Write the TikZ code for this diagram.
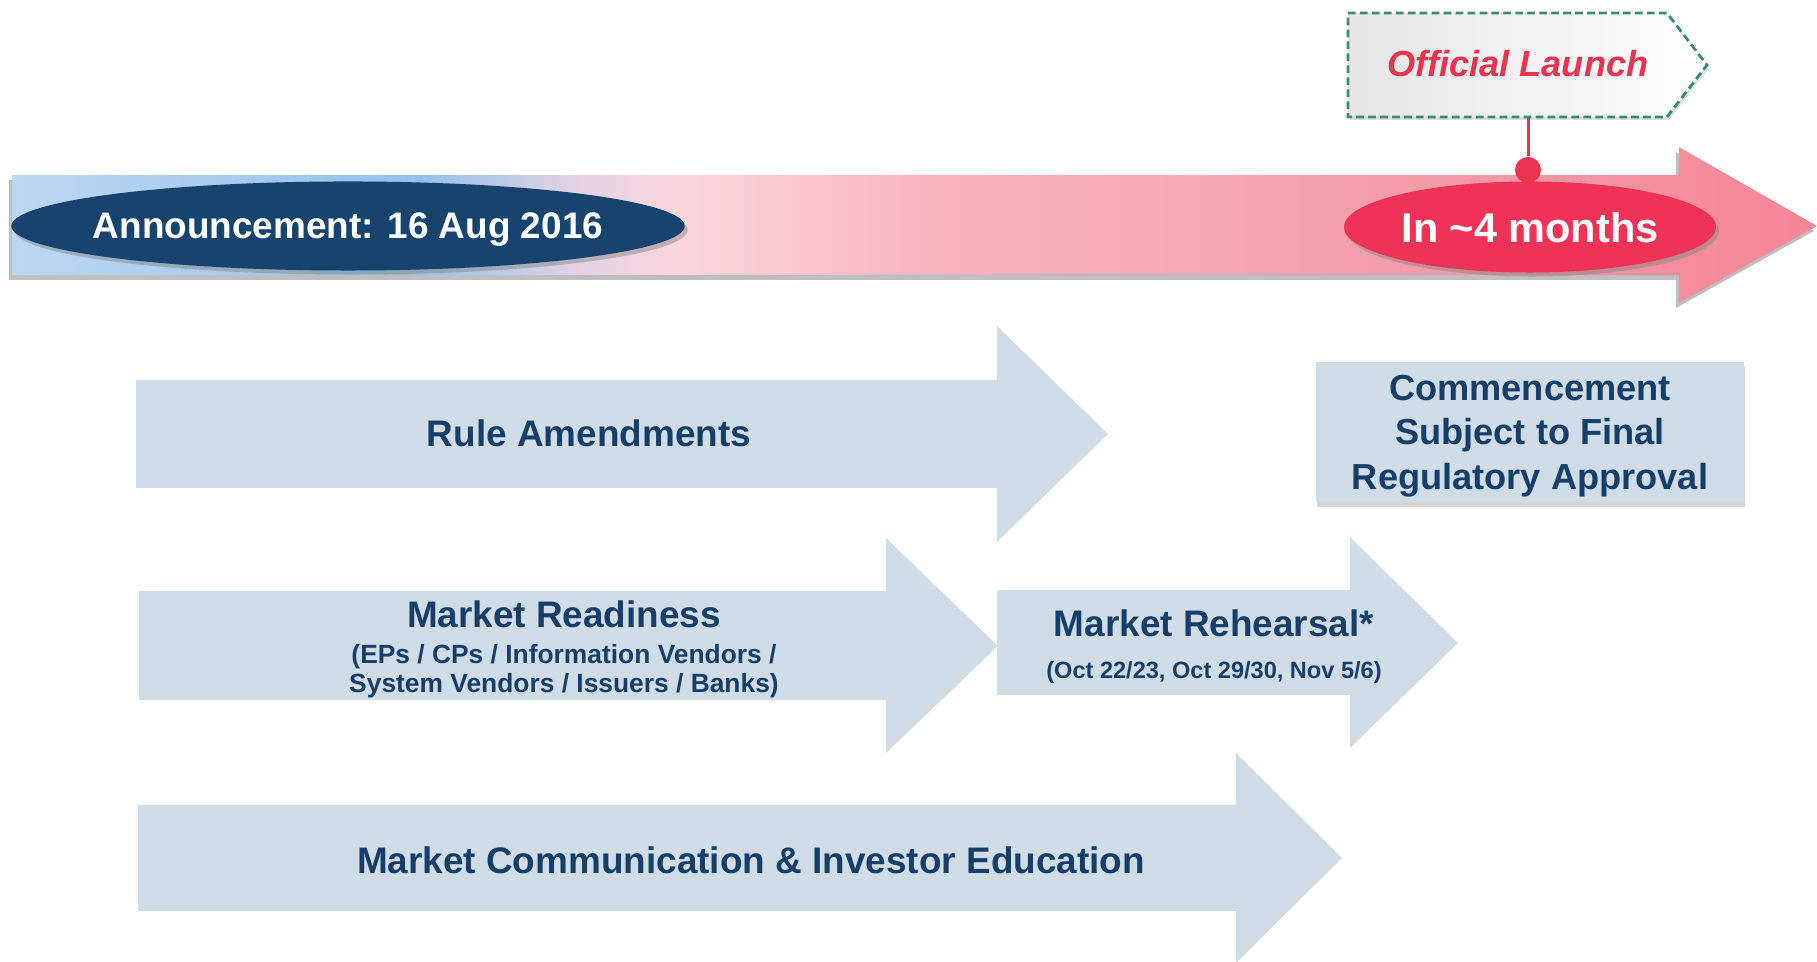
\documentclass[tikz,border=0pt]{standalone}
\usepackage{fontspec}
\setmainfont{Liberation Sans}
\usetikzlibrary{positioning,shapes.geometric,shadows}

\definecolor{phaseblue}{HTML}{D0DDE7}
\definecolor{navytext}{HTML}{153F6A}
\definecolor{navyoval}{HTML}{17446F}
\definecolor{redoval}{HTML}{EF3356}
\definecolor{launchred}{HTML}{EC3350}
\definecolor{launchteal}{HTML}{3A8A78}
\definecolor{tlA}{HTML}{BCD8F1}
\definecolor{tlB}{HTML}{94C1EB}
\definecolor{tlC}{HTML}{E3D3E3}
\definecolor{tlD}{HTML}{FAD6DD}
\definecolor{tlE}{HTML}{F8B3BE}
\definecolor{tlF}{HTML}{F59DAA}
\definecolor{tlG}{HTML}{F38696}

\pgfdeclarehorizontalshading{timeline}{100bp}{color(0bp)=(tlA); color(25bp)=(tlA);
  color(36.3bp)=(tlB); color(40.7bp)=(tlC); color(43.5bp)=(tlD); color(51bp)=(tlE);
  color(63.4bp)=(tlF); color(75bp)=(tlG); color(100bp)=(tlG)}

\tikzset{
  phase/.style={fill=phaseblue},
  phaselabel/.style={text=navytext, inner sep=0pt, font=\fontsize{10.5}{12}\selectfont\bfseries},
  phasenote/.style={text=navytext, inner sep=0pt, align=center, font=\fontsize{7.5}{8.3}\selectfont\bfseries},
  oval/.style={ellipse, inner sep=0pt, text=white, text depth=0pt,
    drop shadow={shadow xshift=0.03cm, shadow yshift=-0.04cm, opacity=0.45}},
  stem/.style={launchred, line width=0.03cm},
  launchbox/.style={left color=gray!20, right color=white, draw=launchteal,
    line width=0.8pt, dash pattern=on 2.2pt off 1.2pt,
    drop shadow={shadow xshift=0.02cm, shadow yshift=-0.03cm, opacity=0.25}}
}

\begin{document}
\begin{tikzpicture}[x=0.01cm, y=-0.01cm]
  \useasboundingbox (0,0) rectangle (1817,962);

  % timeline
  \shade[shading=timeline, drop shadow={shadow xshift=-0.03cm, shadow yshift=-0.05cm, opacity=0.5}]
    (12,175) -- (1679,175) -- (1679,147) -- (1817,226) -- (1679,303) -- (1679,275) -- (12,275) -- cycle;
  \node(announce) [oval, fill=navyoval, minimum width=6.68cm, minimum height=0.89cm, inner xsep=-0.17cm,
    font=\fontsize{10.5}{12}\selectfont\bfseries] at (348,226) {Announcement: 16 Aug 2016};
  \node(months) [oval, fill=redoval, minimum width=3.72cm, minimum height=0.91cm,
    font=\fontsize{11.8}{13}\selectfont\bfseries] at (1530,227) {In \textasciitilde 4 months};

  % official launch flag
  \draw[launchbox] (1348,13) -- (1667,13) -- (1707,65) -- (1667,117) -- (1348,117) -- cycle;
  \node(launch) [text=launchred, inner sep=0pt, font=\fontsize{10.3}{12}\selectfont\bfseries\itshape]
    at (1518,64) {Official Launch};
  \coordinate(launchfoot) at (1528,117);
  \node(dot) [circle, fill=launchred, minimum size=0.26cm, inner sep=0pt] at (1528,170) {};
  \draw[stem] (launchfoot) -- (dot);

  % phases
  \fill[phase] (136,380) -- (997,380) -- (997,326) -- (1108,434) -- (997,542) -- (997,488) -- (136,488) -- cycle;
  \fill[phase] (139,591) -- (886,591) -- (886,538) -- (998,646) -- (886,753) -- (886,700) -- (139,700) -- cycle;
  \fill[phase] (997,590) -- (1350,590) -- (1350,537) -- (1458,643) -- (1350,748) -- (1350,695) -- (997,695) -- cycle;
  \fill[phase] (138,805) -- (1236,805) -- (1236,753) -- (1342,858) -- (1236,963) -- (1236,911) -- (138,911) -- cycle;

  \node(rules) [phaselabel] at (589,433) {Rule Amendments};
  \node(readiness) [phaselabel] at (564,614) {Market Readiness};
  \node(readinessnote) [phasenote, below=0.15cm of readiness]
    {(EPs / CPs / Information Vendors /\\System Vendors / Issuers / Banks)};
  \node(rehearsal) [phaselabel] at (1214,623) {Market Rehearsal*};
  \node(rehearsalnote) [phasenote, below=0.23cm of rehearsal, font=\fontsize{6.7}{8}\selectfont\bfseries]
    {(Oct 22/23, Oct 29/30, Nov 5/6)};
  \node(education) [phaselabel] at (751,860) {Market Communication \& Investor Education};

  \node(approvalbox) [fill=phaseblue, minimum width=4.28cm, minimum height=1.40cm,
    drop shadow={shadow xshift=0.01cm, shadow yshift=-0.05cm, opacity=0.35}] at (1530,432) {};
  \node(approval) [text=navytext, align=center, inner sep=0pt,
    font=\fontsize{10.3}{12.7}\selectfont\bfseries] at (1530,436)
    {Commencement\\Subject to Final\\Regulatory Approval};
\end{tikzpicture}
\end{document}
